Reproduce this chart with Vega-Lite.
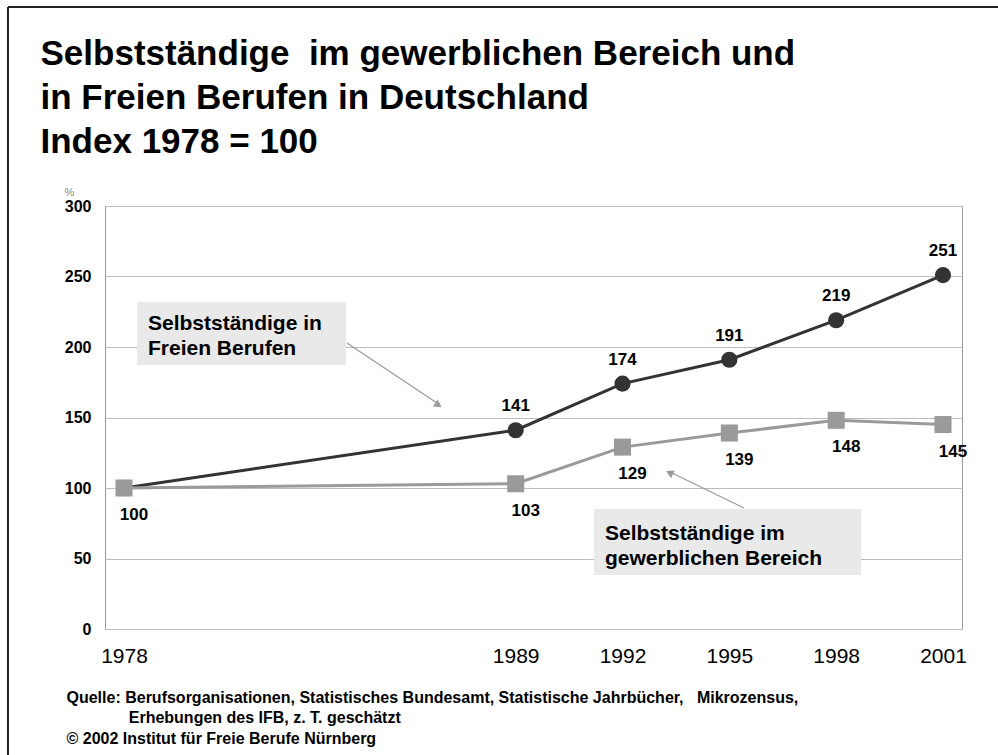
{
  "$schema": "https://vega.github.io/schema/vega-lite/v6.json",
  "autosize": {"type": "none"},
  "width": 857,
  "height": 423,
  "padding": {"left": 105, "top": 206, "right": 36, "bottom": 126},
  "background": "#ffffff",
  "config": {
    "font": "Liberation Sans, Arial, sans-serif",
    "view": {"stroke": "#9a9a9a", "strokeWidth": 1},
    "axis": {"labelFont": "Liberation Sans, Arial, sans-serif", "titleFont": "Liberation Sans, Arial, sans-serif"}
  },
  "datasets": {
    "series": [
      {"year": 1978, "value": 100, "series": "frei"},
      {"year": 1989, "value": 141, "series": "frei"},
      {"year": 1992, "value": 174, "series": "frei"},
      {"year": 1995, "value": 191, "series": "frei"},
      {"year": 1998, "value": 219, "series": "frei"},
      {"year": 2001, "value": 251, "series": "frei"},
      {"year": 1978, "value": 100, "series": "gewerb"},
      {"year": 1989, "value": 103, "series": "gewerb"},
      {"year": 1992, "value": 129, "series": "gewerb"},
      {"year": 1995, "value": 139, "series": "gewerb"},
      {"year": 1998, "value": 148, "series": "gewerb"},
      {"year": 2001, "value": 145, "series": "gewerb"}
    ]
  },
  "resolve": {"axis": {"x": "independent"}},
  "layer": [
    {
      "data": {"name": "series"},
      "layer": [
        {
          "data": {"values": [{"label": "Selbstständige in\nFreien Berufen"}]},
          "mark": {"type": "rect", "color": "#e9e9e9"},
          "encoding": {
            "x": {"datum": 1978.365, "type": "quantitative",
              "scale": {"domain": [1977.4665, 2001.5335], "nice": false, "zero": false},
              "axis": {
                "values": [1978, 1989, 1992, 1995, 1998, 2001], "format": "d",
                "labelFontSize": 21, "labelFontWeight": "normal", "labelColor": "#000000",
                "labelPadding": 16, "ticks": false, "domain": false, "grid": false,
                "title": [
                  "Quelle: Berufsorganisationen, Statistisches Bundesamt, Statistische Jahrbücher,\u00a0\u00a0 Mikrozensus,",
                  "\u200b\u00a0\u00a0\u00a0\u00a0\u00a0\u00a0\u00a0\u00a0\u00a0\u00a0\u00a0\u00a0\u00a0\u00a0Erhebungen des IFB, z. T. geschätzt",
                  "© 2002 Institut für Freie Berufe Nürnberg"
                ],
                "titleX": -39, "titleY": 73, "titleAlign": "left", "titleBaseline": "alphabetic",
                "titleFontSize": 16, "titleFontWeight": "bold", "titleLineHeight": 20.5, "titleColor": "#000000"
              }
            },
            "x2": {"datum": 1984.234},
            "y": {"datum": 231.9, "type": "quantitative",
              "scale": {"domain": [0, 300], "nice": false, "zero": true},
              "axis": {
                "values": [0, 50, 100, 150, 200, 250, 300],
                "labelFontSize": 16, "labelFontWeight": "bold", "labelColor": "#000000",
                "labelPadding": 14, "ticks": false, "domain": false,
                "grid": true, "gridColor": "#bdbdbd", "gridWidth": 1,
                "title": "%", "titleAngle": 0, "titleX": -36, "titleY": -14,
                "titleFontSize": 11, "titleFontWeight": "normal", "titleColor": "#8a8a8a",
                "titleAlign": "center", "titleBaseline": "middle"
              }
            },
            "y2": {"datum": 187.2}
          }
        },
        {
          "data": {"values": [{"label": "Selbstständige in\nFreien Berufen"}]},
          "mark": {"type": "text", "align": "left", "baseline": "alphabetic", "fontSize": 21, "fontWeight": "bold", "lineHeight": 25, "lineBreak": "\n", "color": "#000000"},
          "encoding": {
            "x": {"datum": 1978.674, "type": "quantitative"},
            "y": {"datum": 212.1, "type": "quantitative"},
            "text": {"field": "label"}
          }
        },
        {
          "data": {"values": [{"label": "arrow"}]},
          "mark": {"type": "rule", "color": "#9a9a9a", "strokeWidth": 1.2},
          "encoding": {
            "x": {"datum": 1984.262, "type": "quantitative"},
            "x2": {"datum": 1986.874},
            "y": {"datum": 202.8, "type": "quantitative"},
            "y2": {"datum": 158.9}
          }
        },
        {
          "data": {"values": [{"label": "arrow"}]},
          "mark": {"type": "point", "shape": "triangle-up", "filled": true, "size": 75, "angle": 124, "color": "#9a9a9a", "opacity": 1},
          "encoding": {
            "x": {"datum": 1986.83, "type": "quantitative"},
            "y": {"datum": 158.8, "type": "quantitative"}
          }
        },
        {
          "data": {"values": [{"label": "Selbstständige im\ngewerblichen Bereich"}]},
          "mark": {"type": "rect", "color": "#e9e9e9"},
          "encoding": {
            "x": {"datum": 1991.198, "type": "quantitative"},
            "x2": {"datum": 1998.697},
            "y": {"datum": 85.1, "type": "quantitative"},
            "y2": {"datum": 38.3}
          }
        },
        {
          "data": {"values": [{"label": "Selbstständige im\ngewerblichen Bereich"}]},
          "mark": {"type": "text", "align": "left", "baseline": "alphabetic", "fontSize": 21, "fontWeight": "bold", "lineHeight": 25, "lineBreak": "\n", "color": "#000000"},
          "encoding": {
            "x": {"datum": 1991.507, "type": "quantitative"},
            "y": {"datum": 63.1, "type": "quantitative"},
            "text": {"field": "label"}
          }
        },
        {
          "data": {"values": [{"label": "arrow"}]},
          "mark": {"type": "rule", "color": "#9a9a9a", "strokeWidth": 1.2},
          "encoding": {
            "x": {"datum": 1995.411, "type": "quantitative"},
            "x2": {"datum": 1993.305},
            "y": {"datum": 85.8, "type": "quantitative"},
            "y2": {"datum": 111.7}
          }
        },
        {
          "data": {"values": [{"label": "arrow"}]},
          "mark": {"type": "point", "shape": "triangle-up", "filled": true, "size": 75, "angle": 296, "color": "#9a9a9a", "opacity": 1},
          "encoding": {
            "x": {"datum": 1993.32, "type": "quantitative"},
            "y": {"datum": 110.9, "type": "quantitative"}
          }
        },
        {
          "transform": [{"filter": "datum.series === 'frei'"}],
          "mark": {"type": "line", "color": "#333333", "strokeWidth": 3},
          "encoding": {
            "x": {"field": "year", "type": "quantitative"},
            "y": {"field": "value", "type": "quantitative"}
          }
        },
        {
          "transform": [{"filter": "datum.series === 'gewerb'"}],
          "mark": {"type": "line", "color": "#9a9a9a", "strokeWidth": 3},
          "encoding": {
            "x": {"field": "year", "type": "quantitative"},
            "y": {"field": "value", "type": "quantitative"}
          }
        },
        {
          "transform": [{"filter": "datum.series === 'frei' && datum.year > 1978"}],
          "mark": {"type": "point", "shape": "circle", "filled": true, "size": 260, "color": "#333333", "opacity": 1},
          "encoding": {
            "x": {"field": "year", "type": "quantitative"},
            "y": {"field": "value", "type": "quantitative"}
          }
        },
        {
          "transform": [{"filter": "datum.series === 'gewerb'"}],
          "mark": {"type": "point", "shape": "square", "filled": true, "size": 290, "color": "#9a9a9a", "opacity": 1},
          "encoding": {
            "x": {"field": "year", "type": "quantitative"},
            "y": {"field": "value", "type": "quantitative"}
          }
        },
        {
          "transform": [{"filter": "datum.series === 'frei' && datum.year > 1978"}],
          "mark": {"type": "text", "fontSize": 17, "fontWeight": "bold", "dy": -24, "baseline": "middle", "color": "#000000"},
          "encoding": {
            "x": {"field": "year", "type": "quantitative"},
            "y": {"field": "value", "type": "quantitative"},
            "text": {"field": "value", "type": "quantitative"}
          }
        },
        {
          "transform": [{"filter": "datum.series === 'gewerb'"}],
          "mark": {"type": "text", "fontSize": 17, "fontWeight": "bold", "dy": 27, "dx": 10, "baseline": "middle", "color": "#000000"},
          "encoding": {
            "x": {"field": "year", "type": "quantitative"},
            "y": {"field": "value", "type": "quantitative"},
            "text": {"field": "value", "type": "quantitative"}
          }
        }
      ]
    },
    {
      "data": {"values": [{"label": "frame"}]},
      "layer": [
        {
          "mark": {"type": "rule", "color": "#222222", "strokeWidth": 2},
          "encoding": {
            "x": {"datum": 1974.742, "type": "quantitative",
              "axis": {
                "orient": "top", "labels": false, "ticks": false, "domain": false, "grid": false,
                "title": [
                  "Selbstständige\u00a0 im gewerblichen Bereich und",
                  "in Freien Berufen in Deutschland",
                  "Index 1978 = 100"
                ],
                "titleX": -65, "titleY": -142, "titleAlign": "left", "titleBaseline": "alphabetic",
                "titleFontSize": 35, "titleFontWeight": "bold", "titleLineHeight": 44, "titleColor": "#000000"
              }
            },
            "x2": {"datum": 2004},
            "y": {"datum": 441.1, "type": "quantitative"}
          }
        },
        {
          "mark": {"type": "rule", "color": "#222222", "strokeWidth": 2},
          "encoding": {
            "x": {"datum": 1974.742, "type": "quantitative"},
            "y": {"datum": 441.1, "type": "quantitative"},
            "y2": {"datum": -100}
          }
        }
      ]
    }
  ]
}
